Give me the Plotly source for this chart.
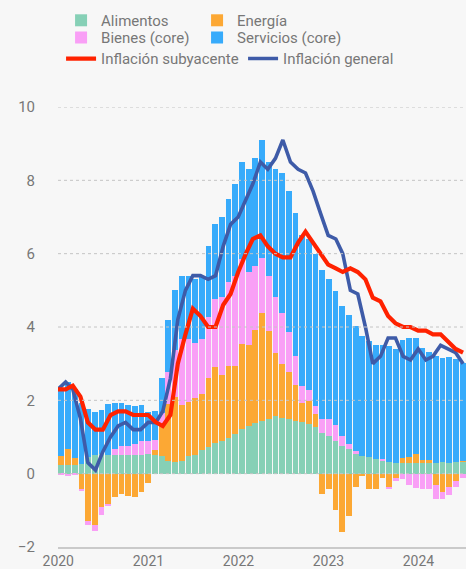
import plotly.graph_objects as go
import pandas as pd

# ---------------- data ----------------
# bar months: Dec 2019 .. Dec 2024 (61 months)
bar_months = [p.strftime('%Y-%m') for p in pd.period_range('2019-12', '2024-12', freq='M')]

alimentos = [0.24,
             0.24, 0.24, 0.26, 0.45, 0.52, 0.53, 0.52, 0.52, 0.52, 0.52, 0.50, 0.52,
             0.53, 0.50, 0.49, 0.34, 0.31, 0.34, 0.48, 0.52, 0.64, 0.74, 0.85, 0.88,
             0.96, 1.08, 1.21, 1.29, 1.38, 1.44, 1.49, 1.56, 1.53, 1.49, 1.45, 1.40,
             1.35, 1.26, 1.12, 1.03, 0.90, 0.75, 0.67, 0.54, 0.48, 0.45, 0.39, 0.37,
             0.33, 0.29, 0.29, 0.29, 0.28, 0.29, 0.29, 0.28, 0.31, 0.28, 0.32, 0.34]
energia = [0.24,
           0.43, 0.20, -0.42, -1.28, -1.40, -0.92, -0.82, -0.64, -0.55, -0.62, -0.64, -0.50,
           -0.25, 0.15, 0.82, 1.56, 1.77, 1.52, 1.48, 1.55, 1.54, 1.86, 2.06, 1.82,
           1.97, 1.87, 2.34, 2.21, 2.53, 2.95, 2.40, 1.74, 1.45, 1.28, 0.96, 0.52,
           0.63, 0.36, -0.55, -0.42, -1.00, -1.58, -1.15, -0.35, -0.07, -0.42, -0.42, -0.12,
           -0.35, -0.13, 0.14, 0.17, 0.25, 0.07, 0.07, -0.30, -0.50, -0.35, -0.21, 0.01]
bienes = [-0.02,
          -0.06, -0.02, -0.06, -0.13, -0.15, -0.22, -0.07, 0.16, 0.23, 0.23, 0.30, 0.38,
          0.36, 0.26, 0.34, 0.87, 1.29, 1.80, 1.72, 1.50, 1.50, 1.66, 1.86, 2.12,
          2.30, 2.45, 2.30, 2.00, 1.75, 1.50, 1.50, 1.52, 1.41, 1.09, 0.79, 0.48,
          0.30, 0.23, 0.36, 0.45, 0.43, 0.29, 0.15, 0.07, 0.00, 0.00, 0.00, 0.04,
          -0.06, -0.06, -0.14, -0.30, -0.40, -0.42, -0.42, -0.40, -0.20, -0.24, -0.14, -0.12]
servicios = [1.84,
             1.84, 1.86, 1.68, 1.32, 1.17, 1.22, 1.38, 1.24, 1.17, 1.12, 1.04, 0.98,
             0.78, 0.80, 0.95, 1.43, 1.63, 1.74, 1.72, 1.73, 1.72, 1.94, 2.03, 2.18,
             2.27, 2.50, 2.65, 2.80, 2.94, 3.21, 3.11, 3.48, 3.81, 3.84, 3.90, 4.10,
             4.12, 4.14, 4.07, 3.84, 3.66, 3.52, 3.51, 3.43, 3.27, 3.17, 3.13, 3.11,
             3.16, 3.10, 3.21, 3.24, 3.17, 3.06, 2.96, 2.92, 2.85, 2.91, 2.82, 2.67]

# line dates: month ends Dec 2019 .. Jun 2024 (55 points)
line_dates = [p.to_timestamp(how='end').strftime('%Y-%m-%d')
              for p in pd.period_range('2019-12', '2024-06', freq='M')]
inflacion_general = [2.3,
                     2.5, 2.3, 1.5, 0.3, 0.1, 0.6, 1.0, 1.3, 1.4, 1.2, 1.2, 1.4,
                     1.4, 1.7, 2.6, 4.2, 5.0, 5.4, 5.4, 5.3, 5.4, 6.2, 6.8, 7.0,
                     7.5, 7.9, 8.5, 8.3, 8.6, 9.1, 8.5, 8.3, 8.2, 7.7, 7.1, 6.5,
                     6.4, 6.0, 5.0, 4.9, 4.0, 3.0, 3.2, 3.7, 3.7, 3.2, 3.1, 3.4,
                     3.1, 3.2, 3.5, 3.4, 3.3, 3.0]
inflacion_subyacente = [2.3,
                        2.3, 2.4, 2.1, 1.4, 1.2, 1.2, 1.6, 1.7, 1.7, 1.6, 1.6, 1.6,
                        1.4, 1.3, 1.6, 3.0, 3.8, 4.5, 4.3, 4.0, 4.0, 4.6, 4.9, 5.5,
                        6.0, 6.4, 6.5, 6.2, 6.0, 5.9, 5.9, 6.3, 6.6, 6.3, 6.0, 5.7,
                        5.6, 5.5, 5.6, 5.5, 5.3, 4.8, 4.7, 4.3, 4.1, 4.0, 4.0, 3.9,
                        3.9, 3.8, 3.8, 3.6, 3.4, 3.3]

year_ticks = ['2020-01-01', '2021-01-01', '2022-01-01', '2023-01-01', '2024-01-01']
year_labels = ['2020', '2021', '2022', '2023', '2024']
y_ticks = [-2, 0, 2, 4, 6, 8, 10]

# ---------------- style ----------------
C_ALI = '#86D0B6'
C_ENE = '#FCA834'
C_BIE = '#F99FF6'
C_SER = '#37ABFB'
C_SUB = '#FF2200'
C_GEN = '#3E5BA8'
TXT = '#777777'
BG = '#F7F7F7'
FONT = 'Roboto'

fig = go.Figure()
for name, vals, col, leg, lw in [('Alimentos', alimentos, C_ALI, 'legend', None),
                                 ('Energía', energia, C_ENE, 'legend', 120),
                                 ('Bienes (core)', bienes, C_BIE, 'legend2', None),
                                 ('Servicios (core)', servicios, C_SER, 'legend2', 125)]:
    fig.add_trace(go.Bar(x=bar_months, y=vals, name=name, marker_color=col,
                         marker_line_width=0, width=0.86, legend=leg, legendwidth=lw,
                         xaxis='x', yaxis='y', hoverinfo='skip'))

fig.add_trace(go.Scatter(x=line_dates, y=inflacion_general, name='Inflación general',
                         mode='lines', line=dict(color=C_GEN, width=3.6),
                         legend='legend3', legendwidth=140, xaxis='x2', yaxis='y'))
fig.add_trace(go.Scatter(x=line_dates, y=inflacion_subyacente, name='Inflación subyacente',
                         mode='lines', line=dict(color=C_SUB, width=4.2),
                         legend='legend3', xaxis='x2', yaxis='y'))

shapes = [dict(type='line', xref='paper', yref='y', x0=0, x1=1, y0=v, y1=v,
               line=dict(color='#C4C4C4', width=1, dash='dot'), layer='above')
          for v in y_ticks if v > y_ticks[0]]

legfont = dict(family=FONT, size=15, color=TXT)
fig.update_layout(
    width=466, height=569,
    margin=dict(l=58, r=0, t=107, b=22),
    paper_bgcolor=BG, plot_bgcolor=BG,
    barmode='relative', bargap=0,
    font=dict(family=FONT, size=15, color=TXT),
    shapes=shapes,
    xaxis=dict(type='category', range=[-0.5, len(bar_months) - 0.5],
               visible=False, showgrid=False),
    xaxis2=dict(type='date', overlaying='x', side='bottom', anchor='y',
                range=['2019-12-31', '2024-07-12'], automargin=False,
                tickvals=year_ticks, ticktext=year_labels, showgrid=False,
                showline=True, linecolor='#CACACA', linewidth=2,
                ticks='', ticklabelstandoff=0,
                tickfont=dict(family=FONT, size=14, color=TXT)),
    yaxis=dict(range=[-2, 10], tickvals=y_ticks, showgrid=False, zeroline=False,
               ticks='', ticklabelstandoff=22, automargin=False,
               tickfont=dict(family=FONT, size=15, color=TXT)),
    legend=dict(orientation='h', x=0.0075, xanchor='left', y=1.234, yanchor='top',
                entrywidth=91, font=legfont, bgcolor='rgba(0,0,0,0)'),
    legend2=dict(orientation='h', x=0.0075, xanchor='left', y=1.195, yanchor='top',
                 entrywidth=91, font=legfont, bgcolor='rgba(0,0,0,0)'),
    legend3=dict(orientation='h', x=0.0075, xanchor='left', y=1.147, yanchor='top',
                 entrywidth=137, font=legfont, bgcolor='rgba(0,0,0,0)',
                 traceorder='reversed'),
    showlegend=True,
)

fig.write_html('out.html', config={'displayModeBar': False},
               post_script="document.body.style.margin='0px';")
